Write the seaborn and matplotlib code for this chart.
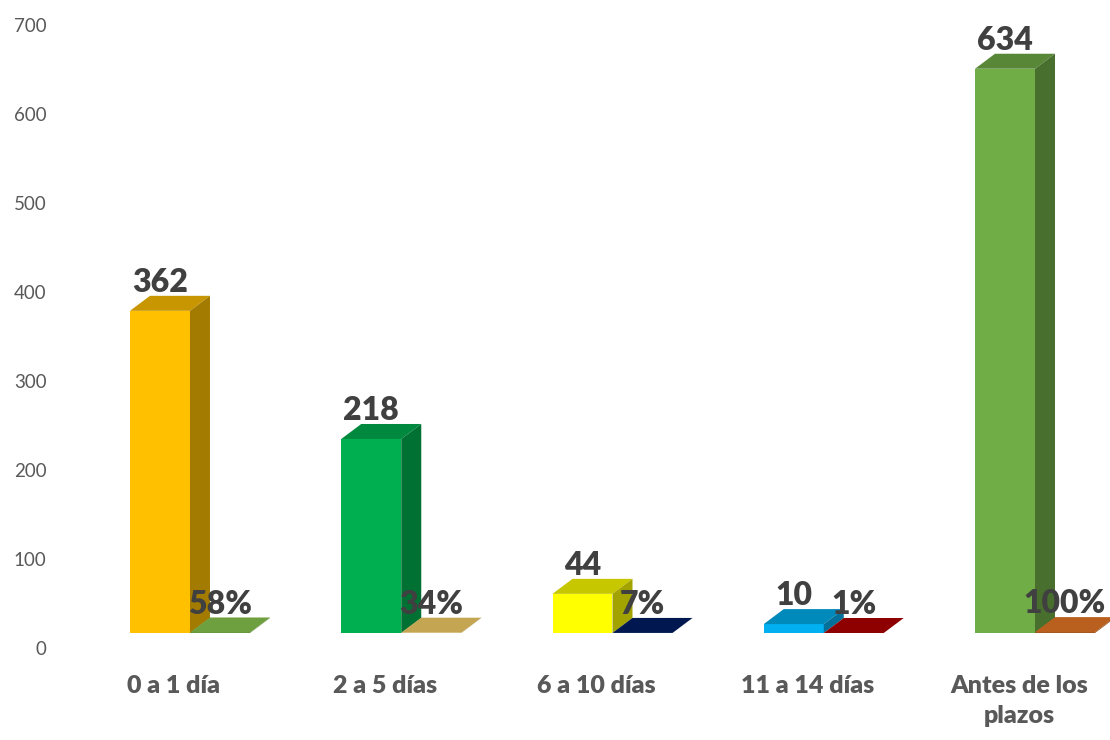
"""
3D-style column chart: response time counts and shares.
"""
import matplotlib
matplotlib.use("Agg")
import matplotlib.pyplot as plt
import seaborn as sns
import pandas as pd
import numpy as np
from matplotlib.patches import Polygon
from matplotlib.colors import to_rgb
from matplotlib.transforms import ScaledTranslation, blended_transform_factory

# ---------------------------------------------------------------
# Data
# ---------------------------------------------------------------
categories = ["0 a 1 día", "2 a 5 días", "6 a 10 días", "11 a 14 días", "Antes de los\nplazos"]
counts = [362, 218, 44, 10, 634]
percents = [58, 34, 7, 1, 100]

bar_colors = ["#FFC000", "#00B050", "#FFFF00", "#00B0F0", "#70AD47"]
pct_colors = ["#6FA03F", "#C4A552", "#00184F", "#8E0000", "#B9601F"]

df = pd.DataFrame({
    "categoria": categories * 2,
    "serie": ["Total"] * len(categories) + ["Porcentaje"] * len(categories),
    "valor": counts + [p / 100 for p in percents],
})

# ---------------------------------------------------------------
# Figure
# ---------------------------------------------------------------
sns.set_style("white")
plt.rcParams["font.family"] = ["Lato", "DejaVu Sans"]

fig = plt.figure(figsize=(11.1, 7.4), dpi=100)
ax = fig.add_axes([70 / 1110, 1 - 633 / 740, 1040 / 1110, 623 / 740])

sns.barplot(data=df, x="categoria", y="valor", hue="serie",
            hue_order=["Total", "Porcentaje"], order=categories,
            width=0.568, gap=0, dodge=True, errorbar=None,
            legend=False, ax=ax)

ax.set_xlim(-0.568, 4.355)
ax.set_ylim(0, 700)
ax.set_yticks(range(0, 701, 100))
ax.set_xticks(range(len(categories)), [""] * len(categories))
ax.set_xlabel("")
ax.set_ylabel("")
sns.despine(ax=ax, left=True, bottom=True)

# depth of the fake 3D, in pixels -> data units
px_x = (ax.get_xlim()[1] - ax.get_xlim()[0]) / 1040
px_y = (ax.get_ylim()[1] - ax.get_ylim()[0]) / 623
dx, dy = 20 * px_x, 15 * px_y


def shade(c, f):
    r, g, b = to_rgb(c)
    return (r * f, g * f, b * f)


n = len(categories)
main_bars = ax.patches[:n]
pct_bars = ax.patches[n:2 * n]

for bars, colors, is_main in [(main_bars, bar_colors, True), (pct_bars, pct_colors, False)]:
    for p, c in zip(bars, colors):
        x0, w, h = p.get_x(), p.get_width(), p.get_height()
        x1 = x0 + w
        if is_main:
            p.set_facecolor(c)
            top_c, side_c = shade(c, 0.78), shade(c, 0.64)
        else:
            p.set_facecolor(shade(c, 0.9))
            top_c, side_c = c, shade(c, 0.8)
        p.set_edgecolor("none")
        top = Polygon([(x0, h), (x1, h), (x1 + dx, h + dy), (x0 + dx, h + dy)],
                      closed=True, facecolor=top_c, edgecolor="none", clip_on=False, zorder=2)
        side = Polygon([(x1, 0), (x1 + dx, dy), (x1 + dx, h + dy), (x1, h)],
                       closed=True, facecolor=side_c, edgecolor="none", clip_on=False, zorder=2)
        ax.add_patch(top)
        ax.add_patch(side)

# value labels
for p, v in zip(main_bars, counts):
    ax.annotate(f"{v}", (p.get_x() + p.get_width() / 2, p.get_height()),
                xytext=(0, 10), textcoords="offset points", ha="center", va="bottom",
                fontsize=23, fontweight="heavy", color="#404040", zorder=5)
for p, v in zip(pct_bars, percents):
    ax.annotate(f"{v}%", (p.get_x() + p.get_width() / 2, p.get_height()),
                xytext=(0, 10), textcoords="offset points", ha="center", va="bottom",
                fontsize=23, fontweight="heavy", color="#404040", zorder=5,
                annotation_clip=False)

# category labels (drawn as text so the bold weight sticks)
trans = blended_transform_factory(ax.transData, ax.transAxes) + \
    ScaledTranslation(-16 / 100, -42 / 100, fig.dpi_scale_trans)
for i, cat in enumerate(categories):
    ax.text(i, 0, cat, transform=trans, ha="center", va="top",
            fontsize=18, fontweight="heavy", color="#595959", linespacing=1.45)

# y tick labels
ax.tick_params(axis="y", length=0, pad=17, labelsize=13.5, labelcolor="#595959")
ax.tick_params(axis="x", length=0)
for lab in ax.get_yticklabels():
    lab.set_transform(lab.get_transform() + ScaledTranslation(0, -15 / 100, fig.dpi_scale_trans))

fig.savefig("out.png", dpi=100, facecolor="white")
plt.close(fig)
